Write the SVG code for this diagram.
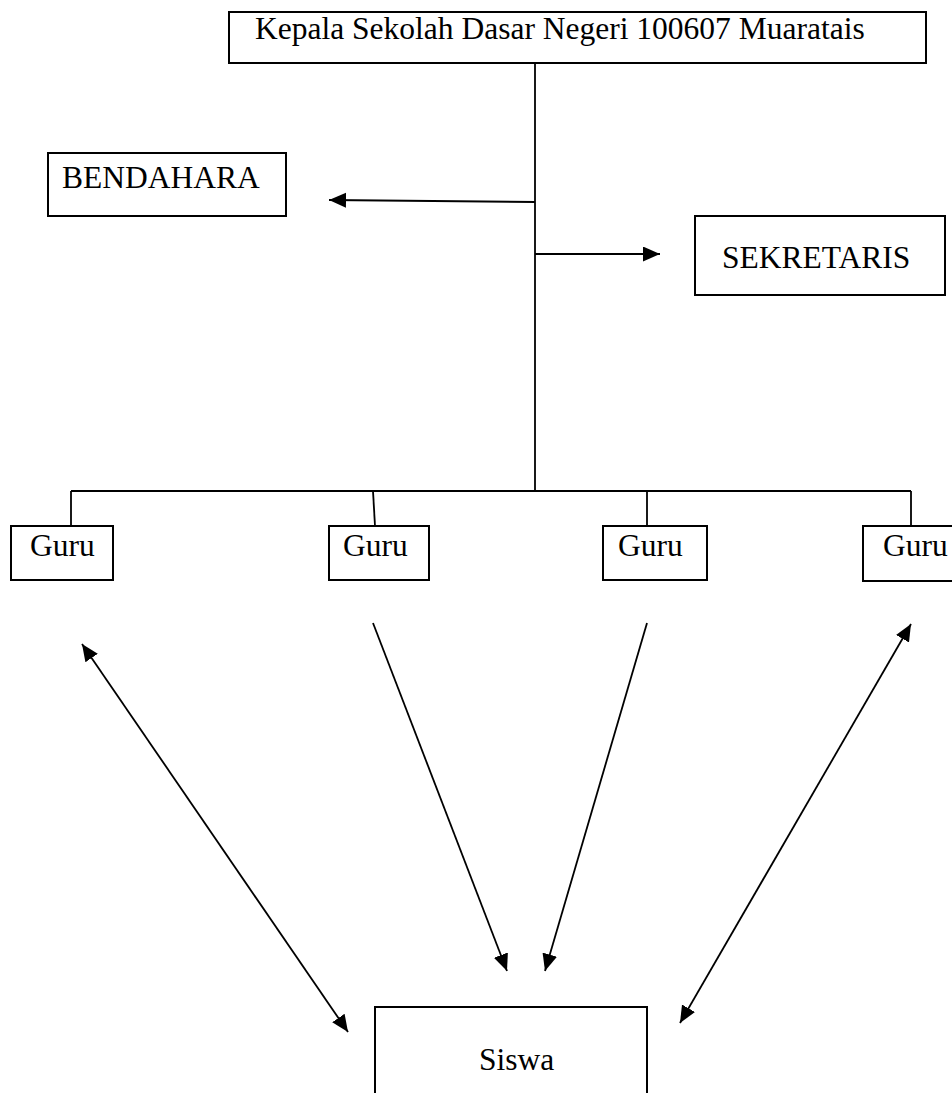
<svg xmlns="http://www.w3.org/2000/svg" width="952" height="1093" viewBox="0 0 952 1093">
<style>
.box{fill:#fff;stroke:#000;stroke-width:2}
.lbl{font-family:"Liberation Serif","Times New Roman",serif;font-size:31.5px;fill:#000}
.ln{fill:none;stroke:#000;stroke-width:1.8}
</style>
<defs>
<marker id="ah" markerUnits="userSpaceOnUse" markerWidth="18" markerHeight="16" refX="17" refY="7.5" orient="auto-start-reverse">
<path d="M0,0 L17,7.5 L0,15 z" fill="#000"/>
</marker>
</defs>
<rect width="952" height="1093" fill="#fff"/>
<g id="connectors">
<line class="ln" x1="535" y1="63" x2="535" y2="492"/>
<line class="ln" x1="71" y1="491" x2="911" y2="491"/>
<line class="ln" x1="71" y1="491" x2="71" y2="526"/>
<line class="ln" x1="373" y1="491" x2="375" y2="526"/>
<line class="ln" x1="647" y1="491" x2="647" y2="526"/>
<line class="ln" x1="911" y1="491" x2="911" y2="526"/>
<line class="ln" x1="535" y1="202" x2="329" y2="200" marker-end="url(#ah)"/>
<line class="ln" x1="535" y1="254" x2="660" y2="254" marker-end="url(#ah)"/>
<line class="ln" x1="82" y1="644" x2="348" y2="1032" marker-start="url(#ah)" marker-end="url(#ah)"/>
<line class="ln" x1="373" y1="623" x2="507" y2="971" marker-end="url(#ah)"/>
<line class="ln" x1="647" y1="623" x2="545" y2="971" marker-end="url(#ah)"/>
<line class="ln" x1="911" y1="624" x2="680" y2="1023" marker-start="url(#ah)" marker-end="url(#ah)"/>
</g>
<g id="kepala">
<rect class="box" x="229" y="12" width="697" height="51"/>
<text class="lbl" x="255" y="39">Kepala Sekolah Dasar Negeri 100607 Muaratais</text>
</g>
<g id="bendahara">
<rect class="box" x="48" y="153" width="238" height="63"/>
<text class="lbl" x="62" y="188">BENDAHARA</text>
</g>
<g id="sekretaris">
<rect class="box" x="695" y="216" width="250" height="79"/>
<text class="lbl" x="722" y="268">SEKRETARIS</text>
</g>
<g id="guru1">
<rect class="box" x="11" y="526" width="102" height="54"/>
<text class="lbl" x="30" y="556">Guru</text>
</g>
<g id="guru2">
<rect class="box" x="329" y="526" width="100" height="54"/>
<text class="lbl" x="343" y="556">Guru</text>
</g>
<g id="guru3">
<rect class="box" x="603" y="526" width="104" height="54"/>
<text class="lbl" x="618" y="556">Guru</text>
</g>
<g id="guru4">
<rect class="box" x="863" y="526" width="100" height="55"/>
<text class="lbl" x="883" y="556">Guru</text>
</g>
<g id="siswa">
<rect class="box" x="375" y="1007" width="272" height="100"/>
<text class="lbl" x="479" y="1070">Siswa</text>
</g>
</svg>
